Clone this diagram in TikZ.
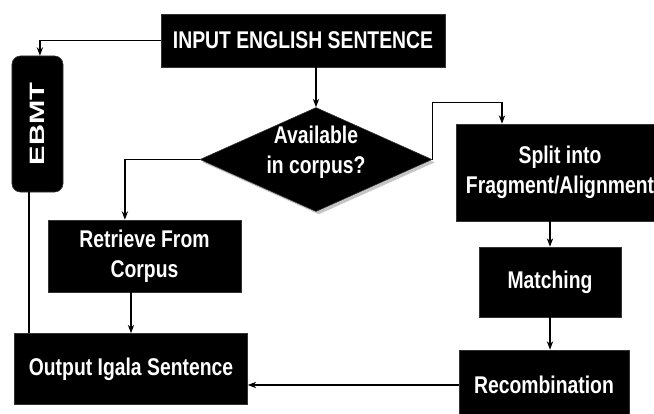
\documentclass[tikz,border=0pt]{standalone}
\usepackage{fontspec}
\setmainfont{Liberation Sans}[FakeStretch=0.8]
\newfontfamily\widefont{Liberation Sans}[FakeStretch=1.4]
\usetikzlibrary{shapes.geometric,arrows.meta,shadows}

\begin{document}
\begin{tikzpicture}[x=0.025cm,y=-0.025cm,
    blk/.style={draw=black!80,fill=black,text=white,align=center,inner sep=0pt,
        font=\bfseries\fontsize{17.2}{21.5}\selectfont},
    arr/.style={-{Stealth[length=6pt,width=4.5pt]},line width=0.9pt},
    lin/.style={line width=0.9pt}]
    \useasboundingbox (0,0) rectangle (654,414);
    \fill[white] (0,0) rectangle (654,414);
    % boxes
    \node[blk,minimum width=7.1cm,minimum height=1.325cm] (in) at (303,40.5) {INPUT ENGLISH SENTENCE};
    \node[blk,rounded corners=6pt,minimum width=1.275cm,minimum height=3.4cm,
        label={[text=white,rotate=90,font=\widefont\bfseries\fontsize{14.8}{15}\selectfont]center:EBMT}] (ebmt) at (37.5,124) {};
    \node[blk,shape=diamond,aspect=2.21,minimum width=5.8cm,minimum height=2.6cm,
        drop shadow={shadow xshift=2pt,shadow yshift=-2pt,fill=black!45},
        label={[blk,draw=none,fill=none,yshift=0.18cm]center:Available\\in corpus?}] (avail) at (316,159.5) {};
    \node[blk,minimum width=4.825cm,minimum height=1.8cm] (ret) at (144.5,256) {Retrieve From\\Corpus};
    \node[blk,minimum width=5.825cm,minimum height=1.775cm] (out) at (131,369) {Output Igala Sentence};
    \node[blk,minimum width=5.2cm,minimum height=2.425cm] (split) at (560,172.5) {Split into\\Fragment/Alignment};
    \node[blk,minimum width=3.55cm,minimum height=1.75cm] (match) at (550,282) {Matching};
    \node[blk,minimum width=4.25cm,minimum height=1.75cm] (rec) at (544,385) {Recombination};
    % connectors
    \draw[arr] (in.west) -| ([xshift=0.06cm]ebmt.north);
    \draw[arr] (in.south -| avail.north) -- (avail.north);
    \draw[arr] (avail.west) -| ([xshift=-0.49cm]ret.north);
    \draw[arr] (ret.south -| out.north) -- (out.north);
    \draw[lin] ([xshift=-0.21cm]ebmt.south) -- ([xshift=-0.21cm]ebmt.south |- out.north);
    \draw[arr] (avail.east) -- ++(0,-57) -| ([xshift=-1.45cm]split.north);
    \draw[arr] (split.south -| match.north) -- (match.north);
    \draw[arr] (match.south) -- (match.south |- rec.north);
    \draw[arr] (rec.west) -- (rec.west -| out.east);
\end{tikzpicture}
\end{document}
